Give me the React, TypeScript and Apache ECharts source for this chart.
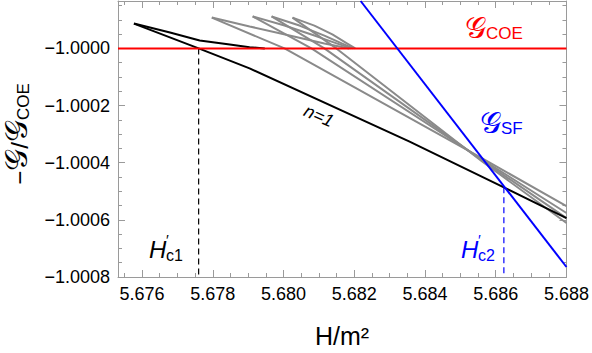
import React, { useEffect, useRef } from "react";
import * as echarts from "echarts";

const FONT = '"Liberation Sans", Arial, Helvetica, sans-serif';

// Axis ranges
const X_MIN = 5.67532;
const X_MAX = 5.688;
const Y_MIN = -1.0008;
const Y_MAX = -0.999834;

// Tick values
const xMajorTicks = [5.676, 5.678, 5.68, 5.682, 5.684, 5.686, 5.688];
const xMinorTicks = [
  5.6755, 5.676, 5.6765, 5.677, 5.6775, 5.678, 5.6785, 5.679, 5.6795, 5.68,
  5.6805, 5.681, 5.6815, 5.682, 5.6825, 5.683, 5.6835, 5.684, 5.6845, 5.685,
  5.6855, 5.686, 5.6865, 5.687, 5.6875, 5.688,
];
const yMajorTicks = [-1.0008, -1.0006, -1.0004, -1.0002, -1.0];
const yMinorTicks = [
  -1.0008, -1.00075, -1.0007, -1.00065, -1.0006, -1.00055, -1.0005, -1.00045,
  -1.0004, -1.00035, -1.0003, -1.00025, -1.0002, -1.00015, -1.0001, -1.00005,
  -1.0, -0.99995, -0.9999, -0.99985,
];

// Critical fields
const Hc1 = 5.6776;
const Hc2 = 5.68623;
const Hc2Value = -1.000486;

// Coexistence level
const coeLine: [number, number][] = [
  [X_MIN, -1.0],
  [X_MAX, -1.0],
];

// Surface-state branch
const sfLine: [number, number][] = [
  [5.68218, -0.999834],
  [5.688, -1.000765],
];

// n = 1 branches
const n1Lower: [number, number][] = [
  [5.67577, -0.999913],
  [5.6776, -1.0],
  [5.67904, -1.00007],
  [5.68355, -1.000325],
  [5.68623, -1.000486],
  [5.688, -1.000594],
];
const n1Upper: [number, number][] = [
  [5.67577, -0.999913],
  [5.67679, -0.999944],
  [5.67763, -0.999972],
  [5.67848, -0.999986],
  [5.67904, -0.999996],
  [5.67947, -1.0],
];

// higher-n branches (lower parts)
const n2Lower: [number, number][] = [
  [5.677972, -0.999892],
  [5.680028, -1.0],
  [5.685606, -1.000384],
  [5.688, -1.000552],
];
const n3Lower: [number, number][] = [
  [5.679127, -0.999888],
  [5.680789, -1.0],
  [5.685606, -1.000388],
  [5.688, -1.000576],
];
const n4Lower: [number, number][] = [
  [5.679662, -0.999888],
  [5.681155, -1.0],
  [5.685606, -1.000391],
  [5.688, -1.000594],
];
const n5Lower: [number, number][] = [
  [5.680254, -0.999892],
  [5.681493, -1.0],
  [5.685606, -1.000395],
  [5.688, -1.000611],
];

// higher-n branches (upper parts, joining the coexistence level)
const n2Upper: [number, number][] = [
  [5.677972, -0.999892],
  [5.679042, -0.999923],
  [5.680169, -0.999955],
  [5.681155, -0.999983],
  [5.681859, -1.0],
];
const n3Upper: [number, number][] = [
  [5.679127, -0.999888],
  [5.680028, -0.99992],
  [5.680873, -0.999955],
  [5.681521, -0.999983],
  [5.681915, -1.0],
];
const n4Upper: [number, number][] = [
  [5.679662, -0.999888],
  [5.680451, -0.99992],
  [5.681155, -0.999955],
  [5.681662, -0.999983],
  [5.681972, -1.0],
];
const n5Upper: [number, number][] = [
  [5.680254, -0.999892],
  [5.680873, -0.99992],
  [5.68138, -0.999951],
  [5.681803, -0.999983],
  [5.682028, -1.0],
];

const hc1Marker: [number, number][] = [
  [Hc1, -1.0],
  [Hc1, Y_MIN],
];
const hc2Marker: [number, number][] = [
  [Hc2, Hc2Value],
  [Hc2, Y_MIN],
];

const FRAME = "#9a9a9a";
const SCRIPT_G = "\uD835\uDCA2";

function lineSeries(data: [number, number][], color: string, width = 2, dashed = false) {
  return {
    type: "line",
    data,
    xAxisIndex: 0,
    yAxisIndex: 0,
    showSymbol: false,
    symbol: "none",
    smooth: false,
    lineStyle: { color, width, type: dashed ? [6, 4] : "solid" },
    silent: true,
  };
}

function tickAxis(
  kind: "x" | "y",
  position: string,
  values: number[],
  length: number,
  withLine: boolean,
  withLabels: boolean
) {
  const isX = kind === "x";
  return {
    type: "value",
    position,
    min: isX ? X_MIN : Y_MIN,
    max: isX ? X_MAX : Y_MAX,
    scale: true,
    axisLine: { show: withLine, onZero: false, lineStyle: { color: FRAME, width: 1 } },
    axisTick: {
      show: true,
      inside: true,
      length,
      customValues: values,
      lineStyle: { color: FRAME, width: 1 },
    },
    axisLabel: withLabels
      ? {
          show: true,
          customValues: values,
          margin: 8,
          fontSize: 18,
          fontFamily: FONT,
          color: "#000",
          showMinLabel: true,
          showMaxLabel: true,
          formatter: (v: number) =>
            isX ? v.toFixed(3) : v.toFixed(4).replace("-", "\u2212"),
        }
      : { show: false },
    splitLine: { show: false },
  };
}

// H'_c label: italic H followed by a stacked prime / subscript block
function criticalLabel(x: number, sub: string, color: string) {
  return [
    {
      type: "text",
      x,
      y: 249,
      style: { text: "H", font: `italic 24px ${FONT}`, fill: color, textVerticalAlign: "middle" },
    },
    {
      type: "text",
      x: x + 17,
      y: 248,
      style: {
        text: `{p|\u2032}\n{s|${sub}}`,
        textVerticalAlign: "middle",
        rich: {
          p: { fontSize: 15, lineHeight: 14, fontFamily: FONT, fill: color },
          s: { fontSize: 16, lineHeight: 17, fontFamily: FONT, fill: color },
        },
      },
    },
  ];
}

export default function App() {
  const ref = useRef<HTMLDivElement>(null);

  useEffect(() => {
    if (!ref.current) return;
    const chart = echarts.init(ref.current, null, { renderer: "svg" });

    const gray = "#8a8a8a";
    const option = {
      animation: false,
      backgroundColor: "#fff",
      grid: { left: 118, right: 24, top: 1, bottom: 76 },
      xAxis: [
        tickAxis("x", "bottom", xMajorTicks, 7, true, true),
        tickAxis("x", "bottom", xMinorTicks, 4, false, false),
        tickAxis("x", "top", xMajorTicks, 7, true, false),
        tickAxis("x", "top", xMinorTicks, 4, false, false),
      ],
      yAxis: [
        tickAxis("y", "left", yMajorTicks, 7, true, true),
        tickAxis("y", "left", yMinorTicks, 4, false, false),
        tickAxis("y", "right", yMajorTicks, 7, true, false),
        tickAxis("y", "right", yMinorTicks, 4, false, false),
      ],
      series: [
        lineSeries(n2Upper, gray),
        lineSeries(n3Upper, gray),
        lineSeries(n4Upper, gray),
        lineSeries(n5Upper, gray),
        lineSeries(n2Lower, gray),
        lineSeries(n3Lower, gray),
        lineSeries(n4Lower, gray),
        lineSeries(n5Lower, gray),
        lineSeries(n1Upper, "#000"),
        lineSeries(n1Lower, "#000"),
        lineSeries(hc1Marker, "#000", 1.2, true),
        lineSeries(hc2Marker, "#0000ff", 1.2, true),
        lineSeries(coeLine, "#ff0000"),
        lineSeries(sfLine, "#0000ff"),
      ],
      graphic: [
        {
          type: "text",
          x: 16,
          y: 134,
          rotation: Math.PI / 2,
          style: {
            text: `{m|\u2212}{g|${SCRIPT_G}}{m|/}{g|${SCRIPT_G}}{s|COE}`,
            textAlign: "center",
            textVerticalAlign: "middle",
            rich: {
              m: { fontSize: 24, fontFamily: FONT, fill: "#000", verticalAlign: "bottom" },
              g: { fontSize: 31, fontFamily: FONT, fill: "#000", verticalAlign: "bottom" },
              s: { fontSize: 17, fontFamily: FONT, fill: "#000", verticalAlign: "bottom" },
            },
          },
        },
        {
          type: "text",
          x: 342,
          y: 336,
          style: {
            text: "H/m\u00B2",
            font: `25px ${FONT}`,
            fill: "#000",
            textAlign: "center",
            textVerticalAlign: "middle",
          },
        },
        {
          type: "text",
          x: 465,
          y: 27,
          style: {
            text: `{g|${SCRIPT_G}}{s|COE}`,
            textVerticalAlign: "middle",
            rich: {
              g: { fontSize: 30, fontFamily: FONT, fill: "#ff0000", verticalAlign: "bottom" },
              s: { fontSize: 17, fontFamily: FONT, fill: "#ff0000", verticalAlign: "bottom" },
            },
          },
        },
        {
          type: "text",
          x: 480,
          y: 122,
          style: {
            text: `{g|${SCRIPT_G}}{s|SF}`,
            textVerticalAlign: "middle",
            rich: {
              g: { fontSize: 30, fontFamily: FONT, fill: "#0000ff", verticalAlign: "bottom" },
              s: { fontSize: 17, fontFamily: FONT, fill: "#0000ff", verticalAlign: "bottom" },
            },
          },
        },
        {
          type: "text",
          x: 319,
          y: 116,
          rotation: (-24 * Math.PI) / 180,
          style: {
            text: "n=1",
            font: `italic 18px ${FONT}`,
            fill: "#000",
            textAlign: "center",
            textVerticalAlign: "middle",
          },
        },
        ...criticalLabel(149, "c1", "#000"),
        ...criticalLabel(461, "c2", "#0000ff"),
      ],
    };

    chart.setOption(option as any);
    return () => chart.dispose();
  }, []);

  return (
    <div
      ref={ref}
      style={{ position: "fixed", left: 0, top: 0, width: 592, height: 353, background: "#fff" }}
    />
  );
}
